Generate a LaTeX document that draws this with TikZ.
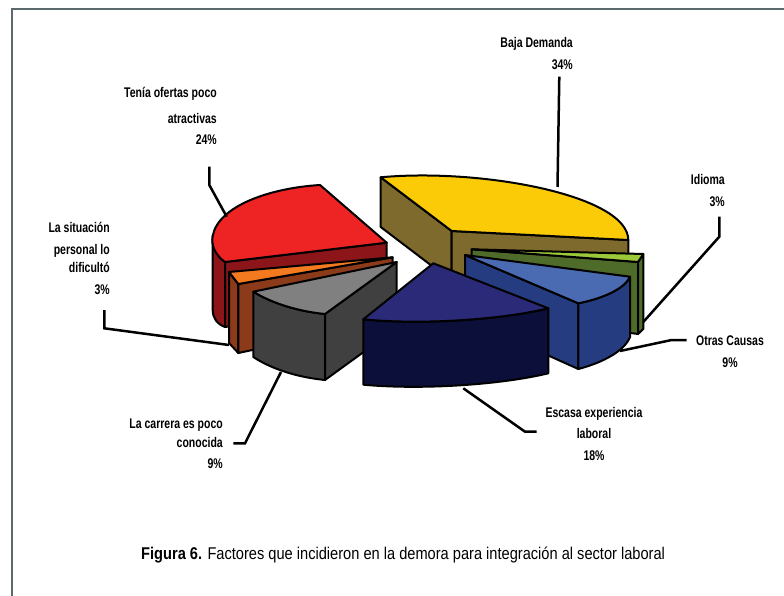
\documentclass[tikz,border=0pt]{standalone}
\usepackage{fontspec}
\setmainfont{Liberation Sans}
\newfontfamily\labfont[FakeStretch=0.75]{Liberation Sans}
\newfontfamily\capfont[FakeStretch=0.86]{Liberation Sans}
\definecolor{framec}{HTML}{5B6A6A}
\definecolor{yelc}{HTML}{FCCB08}
\definecolor{olivec}{HTML}{7E6A2C}
\definecolor{redc}{HTML}{EE2324}
\definecolor{dredc}{HTML}{8B1518}
\definecolor{orangec}{HTML}{F47A20}
\definecolor{brownc}{HTML}{8B3A1A}
\definecolor{grayc}{HTML}{808080}
\definecolor{dgrayc}{HTML}{404040}
\definecolor{navyc}{HTML}{2B2A78}
\definecolor{dnavyc}{HTML}{0B0F3A}
\definecolor{bluec}{HTML}{4A6AB2}
\definecolor{dbluec}{HTML}{263C80}
\definecolor{lgreenc}{HTML}{9BC93A}
\definecolor{dgreenc}{HTML}{4E6B2A}
\begin{document}
\begin{tikzpicture}[x=1pt,y=-1pt,
  face/.style={draw=black,line width=2pt,line join=round},
  leader/.style={draw=black,line width=2.5pt,line join=miter},
  lab/.style={inner sep=0pt,font=\labfont\bfseries\fontsize{14}{21.5}\selectfont}]
\useasboundingbox (0,0) rectangle (784,596);
\fill[white] (0,0) rectangle (784,596);
\draw[framec,line width=2.5pt] (12,596) -- (12,9) -- (784,9);

% Baja Demanda (yellow)
\path[face,fill=olivec] (380.7,177.3) -- (451.7,231) -- (451.7,281) -- (380.7,227) -- cycle;
\path[face,fill=olivec] (451.7,231) -- (628.3,240) -- (628.3,292) -- (451.7,281) -- cycle;
\path[face,fill=yelc] (451.7,231) -- (380.7,177.3) .. controls (480,168) and (628,195) .. (628.3,240) -- cycle;

% Tenia ofertas (red)
\path[face,fill=dredc] (225,262) -- (225,327) .. controls (217,324) and (212.7,318) .. (212.7,310) -- (212.7,236) .. controls (213,248) and (218,256) .. (225,262) -- cycle;
\path[face,fill=dredc] (225,262) -- (386.7,242.7) -- (386.7,305) -- (225,327) -- cycle;
\path[face,fill=redc] (320,185) -- (386.7,242.7) -- (225,262) .. controls (215,255) and (211,245) .. (212.7,236) .. controls (218,206) and (270,188) .. (320,185) -- cycle;

% Idioma (green)
\path[face,fill=dgreenc] (471.7,249.3) -- (638,262) -- (638,334) -- (471.7,312) -- cycle;
\path[face,fill=dgreenc] (638,262) -- (643.3,254) -- (643.3,329) -- (638,334) -- cycle;
\path[face,fill=lgreenc] (471.7,249.3) -- (643.3,254) -- (638,262) -- cycle;

% Otras causas (blue)
\path[face,fill=dbluec] (465,255) -- (578.3,303.3) -- (578.3,369) -- (465,318) -- cycle;
\path[face,fill=dbluec] (630,276.7) .. controls (625,288) and (605,298) .. (578.3,303.3) -- (578.3,369) .. controls (605,362) and (625,350) .. (630,337) -- cycle;
\path[face,fill=bluec] (465,255) -- (630,276.7) .. controls (625,288) and (605,298) .. (578.3,303.3) -- cycle;

% Situacion personal (orange)
\path[face,fill=brownc] (229,272) -- (238.3,284) -- (238.3,353) -- (229,343) -- cycle;
\path[face,fill=brownc] (238.3,284) -- (392.7,257.3) -- (392.7,320) -- (238.3,353) -- cycle;
\path[face,fill=orangec] (229,272) -- (392.7,257.3) -- (238.3,284) -- cycle;

% Carrera poco conocida (gray)
\path[face,fill=dgrayc] (253.3,291.7) .. controls (270,302) and (295,311) .. (325,314) -- (325,380) .. controls (295,377) and (270,368) .. (253.3,357) -- cycle;
\path[face,fill=dgrayc] (325,314) -- (396.7,262) -- (396.7,328) -- (325,380) -- cycle;
\path[face,fill=grayc] (253.3,291.7) -- (396.7,262) -- (325,314) .. controls (295,311) and (270,302) .. (253.3,291.7) -- cycle;

% Escasa experiencia (navy)
\path[face,fill=dnavyc] (363.3,319.3) .. controls (420,325) and (500,320) .. (548.3,308.3) -- (548.3,373.3) .. controls (500,385) and (420,390) .. (363.3,384.7) -- cycle;
\path[face,fill=navyc] (433.3,263.3) -- (548.3,308.3) .. controls (500,320) and (420,325) .. (363.3,319.3) -- cycle;

% labels
\node[lab,align=right,anchor=north east] (baja) at (573,37.5) {Baja Demanda\\34\%};
\node[lab,align=right,anchor=north east] (idioma) at (725,174.5) {Idioma\\3\%};
\node[lab,align=center,anchor=north] (otras) at (730,336) {Otras Causas\\9\%};
\node[lab,align=center,anchor=north] (escasa) at (594,407) {Escasa experiencia\\laboral\\18\%};
\node[lab,align=right,anchor=north east] (carrera) at (223,419) {La carrera es poco\\[-3pt]conocida\\9\%};
\node[lab,align=right,anchor=north east] (situacion) at (110,222.5) {La situación\\personal lo\\[-3pt]dificultó\\3\%};
\node[lab,align=right,anchor=north east] (tenia) at (217,87.5) {Tenía ofertas poco\\[4pt]atractivas\\24\%};
\node[inner sep=0pt,anchor=north west,font=\capfont\fontsize{17}{19}\selectfont] (caption) at (141,547) {\textbf{Figura 6.} Factores que incidieron en la demora para integración al sector laboral};

% leader coordinates
\coordinate (bajaA) at (559.3,76.7);
\coordinate (bajaB) at (557.5,187);
\coordinate (idA) at (719.3,216.7);
\coordinate (idB) at (719.3,236.7);
\coordinate (idC) at (643.3,322);
\coordinate (otA) at (686.7,340);
\coordinate (otB) at (671.7,340);
\coordinate (otC) at (620,351);
\coordinate (esA) at (536.7,431.7);
\coordinate (esB) at (525,431.7);
\coordinate (esC) at (463.3,388.3);
\coordinate (caA) at (233.3,443.3);
\coordinate (caB) at (245,443.3);
\coordinate (caC) at (281,372);
\coordinate (siA) at (104.3,310);
\coordinate (siB) at (104.3,328.3);
\coordinate (siC) at (229,345);
\coordinate (teA) at (209.3,166.7);
\coordinate (teB) at (209.3,185);
\coordinate (teC) at (226.7,216.7);

\draw[leader] (bajaA) -- (bajaB);
\draw[leader] (idA) -- (idB) -- (idC);
\draw[leader] (otA) -- (otB) -- (otC);
\draw[leader] (esA) -- (esB) -- (esC);
\draw[leader] (caA) -- (caB) -- (caC);
\draw[leader] (siA) -- (siB) -- (siC);
\draw[leader] (teA) -- (teB) -- (teC);
\end{tikzpicture}
\end{document}
